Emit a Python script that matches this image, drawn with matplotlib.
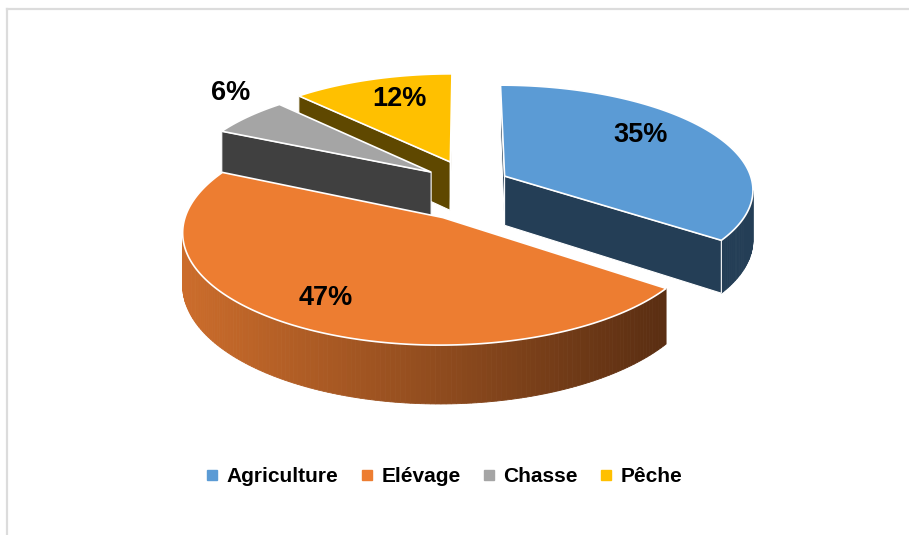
import numpy as np
import matplotlib
matplotlib.use('Agg')
import matplotlib.pyplot as plt
from matplotlib.patches import Polygon
from matplotlib.lines import Line2D
from matplotlib.colors import to_rgb

categories = ['Agriculture', 'Elévage', 'Chasse', 'Pêche']
values = [35, 47, 6, 12]
labels = ['35%', '47%', '6%', '12%']

top_colors = ['#5B9BD5', '#ED7D31', '#A5A5A5', '#FFC000']
side_colors = ['#243E56', None, '#404040', '#5F4800']
# rim gradient for the big orange slice (left -> right)
grad_left, grad_right = '#CB6C2B', '#5A2E12'

# projection of the tilted pie (pixel units, y down)
CX, CY = 466, 190
RX, RY = 250, 105
K = 0.12          # perspective
DEPTH = 50
EX, EY = 0.176, 0.296   # explode distance
label_r = [0.73, 0.78, 1.26, 0.73]
label_shift = [-9, 1, 7.4, 3]

W, H = 909, 535
fig = plt.figure(figsize=(W / 100, H / 100), dpi=100)
ax = fig.add_axes([0, 0, 1, 1])
ax.set_xlim(0, W)
ax.set_ylim(H, 0)
ax.axis('off')


def proj(u, v, z=0.0):
    s = 1.0 / (1.0 + K * v)
    return CX + RX * u * s, CY - RY * v * s + DEPTH * z * s


def area(pts):
    x = np.array([p[0] for p in pts])
    y = np.array([p[1] for p in pts])
    return 0.5 * np.sum(x * np.roll(y, -1) - np.roll(x, -1) * y)


total = sum(values)
starts = np.concatenate([[0], np.cumsum(values)[:-1]]) / total * 360
spans = np.array(values) / total * 360

slices = []
for i in range(len(values)):
    mid = np.radians(starts[i] + spans[i] / 2)
    ox, oy = EX * np.sin(mid), EY * np.cos(mid)
    t = np.radians(np.linspace(starts[i], starts[i] + spans[i], int(spans[i]) + 2))
    outline = [(ox, oy)] + [(ox + np.sin(a), oy + np.cos(a)) for a in t]
    slices.append((oy, i, ox, oy, outline))

# far slices first
slices.sort(key=lambda s: -s[0])
z = 1
for _, i, ox, oy, outline in slices:
    n = len(outline)
    for j in range(n):
        a, b = outline[j], outline[(j + 1) % n]
        quad = [proj(*a), proj(*b), proj(*b, 1), proj(*a, 1)]
        if area(quad) >= 0:
            continue
        radial = (j == 0) or (j == n - 1)
        if side_colors[i] is None:
            xm = np.mean([q[0] for q in quad])
            f = np.clip((xm - 185) / (665 - 185), 0, 1)
            col = tuple((1 - f) * np.array(to_rgb(grad_left)) + f * np.array(to_rgb(grad_right)))
        else:
            col = side_colors[i]
        if radial:
            ax.add_patch(Polygon(quad, closed=True, facecolor=col, edgecolor='white',
                                 lw=0.8, zorder=z))
        else:
            ax.add_patch(Polygon(quad, closed=True, facecolor=col, edgecolor=col,
                                 lw=0.6, zorder=z))
    z += 1
    top = [proj(*p) for p in outline]
    ax.add_patch(Polygon(top, closed=True, facecolor=top_colors[i], edgecolor='white',
                         lw=1.2, zorder=z))
    z += 1

# data labels
for i in range(len(values)):
    mid = np.radians(starts[i] + spans[i] / 2)
    ox, oy = EX * np.sin(mid), EY * np.cos(mid)
    la = mid + np.radians(label_shift[i])
    x, y = proj(ox + label_r[i] * np.sin(la), oy + label_r[i] * np.cos(la))
    ax.text(x, y, labels[i], ha='center', va='center', fontsize=19.5, fontweight='bold',
            family='Liberation Sans', color='black', zorder=50)

handles = [Line2D([], [], marker='s', ls='', color=c, markersize=7) for c in top_colors]
fig.legend(handles, categories, loc='center', bbox_to_anchor=(443 / W, 1 - 477 / H),
           ncol=4, frameon=False, handlelength=0.8, handletextpad=0.3, columnspacing=0.95,
           prop={'family': 'Liberation Sans', 'weight': 'bold', 'size': 15})

# chart border (only top and left edges show)
ax.plot([7, W], [9, 9], color='#DCDCDC', lw=1.6, zorder=0)
ax.plot([7, 7], [9, H], color='#DCDCDC', lw=1.6, zorder=0)

fig.savefig('out.png', dpi=100)
